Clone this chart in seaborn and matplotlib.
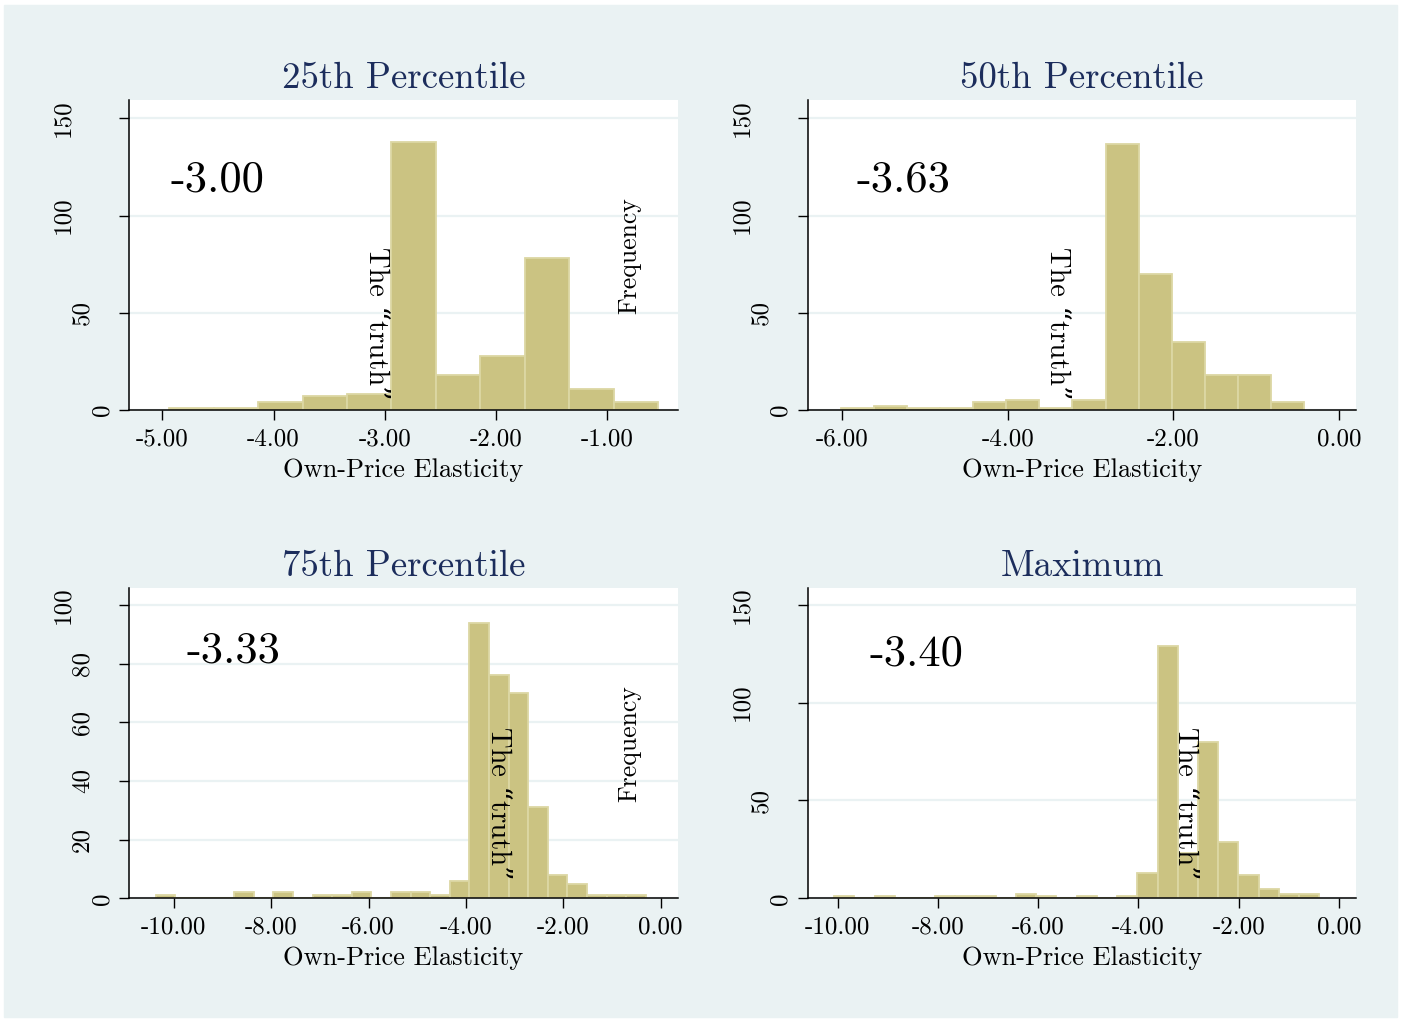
import numpy as np
import pandas as pd
import matplotlib
matplotlib.use("Agg")
import matplotlib.pyplot as plt
from matplotlib.patches import Rectangle
import seaborn as sns

# Panel titles and the mean shown in each panel
titles = ["25th Percentile", "50th Percentile", "75th Percentile", "Maximum"]
means = ["-3.00", "-3.63", "-3.33", "-3.40"]

# Histogram bins (start, width) and counts
p25_start, p25_width = -4.94, 0.40
p25_counts = [1, 1, 4, 7, 8, 138, 18, 28, 78, 11, 4]

p50_start, p50_width = -6.02, 0.40
p50_counts = [1, 2, 1, 1, 4, 5, 1, 5, 137, 70, 35, 18, 18, 4]

p75_start, p75_width = -10.37, 0.4025
p75_counts = [1, 0, 0, 0, 2, 0, 2, 0, 1, 1, 2, 0, 2, 2, 1, 6,
              94, 76, 70, 31, 8, 5, 1, 1, 1]

max_start, max_width = -10.07, 0.4033
max_counts = [1, 0, 1, 0, 0, 1, 1, 1, 0, 2, 1, 0, 1, 0, 1, 13,
              129, 23, 80, 29, 12, 5, 2, 2]

# where the "truth" label sits (x = true elasticity, y = top of label)
truth_x = [-3.08, -3.41, -3.34, -3.06]
truth_y = [83.8, 83.8, 58.5, 87.7]

xticks_list = [[-5, -4, -3, -2, -1], [-6, -4, -2, 0],
               [-10, -8, -6, -4, -2, 0], [-10, -8, -6, -4, -2, 0]]
yticks_list = [[0, 50, 100, 150], [0, 50, 100, 150],
               [0, 20, 40, 60, 80, 100], [0, 50, 100, 150]]

panels = [(p25_start, p25_width, p25_counts),
          (p50_start, p50_width, p50_counts),
          (p75_start, p75_width, p75_counts),
          (max_start, max_width, max_counts)]

sns.set_style("ticks")
plt.rcParams['font.family'] = ['cmr10', 'DejaVu Serif']
plt.rcParams['mathtext.fontset'] = 'cm'
plt.rcParams['axes.unicode_minus'] = False
plt.rcParams['axes.formatter.use_mathtext'] = True
for key in ['text.color', 'axes.labelcolor', 'xtick.color', 'ytick.color',
            'axes.edgecolor']:
    plt.rcParams[key] = 'black'

W, H = 1401, 1021
fig = plt.figure(figsize=(W / 100, H / 100), dpi=100, facecolor="white")
fig.add_artist(Rectangle((4 / W, 4 / H), (W - 8) / W, (H - 9) / H,
                         transform=fig.transFigure, color="#eaf2f3", zorder=-10))

bg = "#eaf2f3"
bar_fill = "#cbc382"
bar_edge = "#dcd7a4"
title_col = "#1c2d5c"

boxes = [[129 / W, 611 / H, 549 / W, 310 / H],
         [808 / W, 611 / H, 548 / W, 310 / H],
         [129 / W, 122.7 / H, 549 / W, 310.3 / H],
         [808 / W, 122.7 / H, 548 / W, 310.3 / H]]
xlims = [(-5.30, -0.364), (-6.417, 0.207), (-10.92, 0.355), (-10.59, 0.34)]
ylims = [(0, 159.5), (0, 159.5), (0, 105.8), (0, 158.6)]
mean_pos = [(0.0747, 0.739), (0.0894, 0.739), (0.104, 0.797), (0.113, 0.787)]

for i, (start, width, counts) in enumerate(panels):
    ax = fig.add_axes(boxes[i])
    ax.set_facecolor("white")
    edges = [start + width * k for k in range(len(counts) + 1)]
    centers = [(a + b) / 2 for a, b in zip(edges[:-1], edges[1:])]
    df = pd.DataFrame({"elasticity": centers, "count": counts})
    sns.histplot(data=df, x="elasticity", weights="count", bins=edges, ax=ax,
                 color=bar_fill, alpha=1, edgecolor=bar_edge, linewidth=1.3,
                 zorder=2)

    ax.set_xlim(*xlims[i])
    ax.set_ylim(*ylims[i])
    ax.set_xticks(xticks_list[i])
    ax.set_xticklabels([f"{v:.2f}" for v in xticks_list[i]], fontsize=18)
    ax.set_yticks(yticks_list[i])
    ax.set_yticklabels([str(v) for v in yticks_list[i]], fontsize=18,
                       rotation=90, va="center", ha="right")
    for tick, v in zip(ax.yaxis.get_major_ticks(), yticks_list[i]):
        tick.set_pad((6 + 19.5 * (len(str(v)) - 1)) * 0.72)
    ax.tick_params(axis="both", direction="out", length=7.2, width=1.0,
                   color="black", labelcolor="black")
    ax.tick_params(axis="x", pad=6)
    ax.grid(axis="y", color=bg, linewidth=1.6, zorder=0)
    ax.set_axisbelow(True)
    for side in ["top", "right"]:
        ax.spines[side].set_visible(False)
    for side in ["left", "bottom"]:
        ax.spines[side].set_linewidth(1.1)
        ax.spines[side].set_color("black")

    ax.set_xlabel("Own-Price Elasticity", fontsize=19, labelpad=5.5,
                  color="black")
    ax.set_ylabel("")
    ax.set_title(titles[i], fontsize=26.5, color=title_col, pad=8.6)

    ax.text(mean_pos[i][0], mean_pos[i][1], means[i], transform=ax.transAxes,
            fontsize=32, ha="left", va="center", color="black")
    ax.text(truth_x[i], truth_y[i], "The \u201ctruth\u201d", fontsize=20.5,
            rotation=-90, ha="center", va="top", zorder=5, color="black")
    if i in (0, 2):
        ax.text(0.911, 0.497, "Frequency", transform=ax.transAxes,
                fontsize=18.5, rotation=90, ha="center", va="center",
                color="black")

fig.savefig("out.png", dpi=100, facecolor="white")
